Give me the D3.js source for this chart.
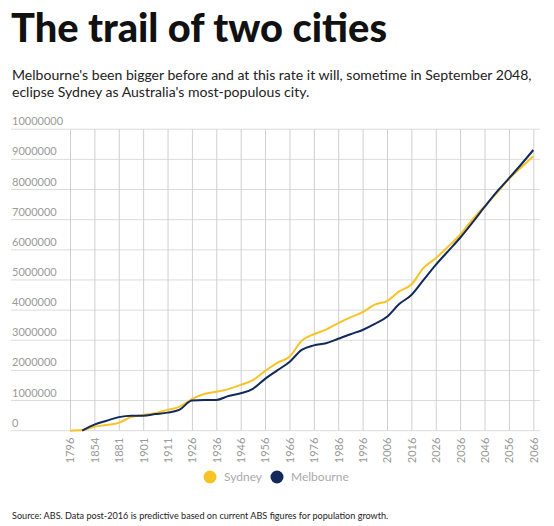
<!DOCTYPE html>
<html><head><meta charset="utf-8">
<script src="https://cdn.jsdelivr.net/npm/d3@7"></script>
<style>
body{margin:0;background:#fff;}
svg{display:block;}
</style></head>
<body>
<svg id="c" width="554" height="526"></svg>
<script>
const periods = ["1796","1825","1854","1868","1881","1891","1901","1906","1911","1918","1926","1931","1936","1941","1946","1951","1956","1961","1966","1971","1976","1981","1986","1991","1996","2001","2006","2011","2016","2021","2026","2031","2036","2041","2046","2051","2056","2061","2066"];
const tickLabels = ["1796","1854","1881","1901","1911","1926","1936","1946","1956","1966","1976","1986","1996","2006","2016","2026","2036","2046","2056","2066"];
const sydney = [0,20000,130000,190000,260000,450000,520000,580000,690000,800000,1050000,1220000,1290000,1380000,1520000,1680000,1980000,2250000,2450000,2980000,3200000,3350000,3570000,3760000,3930000,4180000,4300000,4620000,4850000,5400000,5720000,6100000,6500000,7000000,7440000,7880000,8350000,8730000,9100000];
const melbourne = [null,0,200000,330000,450000,500000,500000,550000,600000,700000,1000000,1020000,1020000,1150000,1240000,1390000,1720000,2000000,2280000,2680000,2830000,2900000,3050000,3200000,3340000,3540000,3780000,4200000,4500000,5000000,5500000,5950000,6400000,6900000,7420000,7920000,8370000,8830000,9310000];
const yTicks = [0,1000000,2000000,3000000,4000000,5000000,6000000,7000000,8000000,9000000,10000000];
const seriesNames = ["Sydney","Melbourne"];
const colors = ["#f7c325","#13295a"];
const subtitleLines = ["Melbourne's been bigger before and at this rate it will, sometime in September 2048,","eclipse Sydney as Australia's most-populous city."];

const svg = d3.select("#c");
const x = d3.scalePoint().domain(periods).range([70, 533.3]);
const y = d3.scaleLinear().domain([0, 10000000]).range([430.7, 129.2]);

function fit(sel, w){
  const n = sel.node(); const fs = parseFloat(sel.attr("font-size"));
  const cw = n.getComputedTextLength();
  sel.attr("font-size", (fs*w/cw).toFixed(2));
}

// title
const t = svg.append("text").attr("x",11).attr("y",42).attr("font-family","Lato, 'Noto Sans', sans-serif")
  .attr("font-weight",900).attr("font-size",38).attr("fill","#111").text("The trail of two cities");
fit(t, 376);

// subtitle
const s1 = svg.append("text").attr("x",12).attr("y",80).attr("font-family","Lato, 'Noto Sans', sans-serif")
  .attr("font-size",14).attr("fill","#222").text(subtitleLines[0]);
fit(s1, 520);
svg.append("text").attr("x",12).attr("y",97).attr("font-family","Lato, 'Noto Sans', sans-serif")
  .attr("font-size",s1.attr("font-size")).attr("fill","#222").text(subtitleLines[1]);

// horizontal grid
const g = svg.append("g");
g.selectAll("line.h").data(yTicks).join("line").attr("class","h")
  .attr("x1",11).attr("x2",540).attr("y1",d=>y(d)).attr("y2",d=>y(d))
  .attr("stroke","#dcdcdc").attr("stroke-width",1);
g.selectAll("text.yl").data(yTicks).join("text").attr("class","yl")
  .attr("x",12).attr("y",d=>y(d)-4).attr("font-family","Lato, sans-serif").attr("font-size",11)
  .attr("fill","#9a9a9a").text(d=>d3.format("d")(d));

// vertical grid + x axis
const xAxis = d3.axisBottom(x).tickValues(tickLabels).tickSize(0).tickPadding(0);
const xa = svg.append("g").attr("transform","translate(0,430.7)").call(xAxis);
xa.select(".domain").remove();
xa.selectAll(".tick line").attr("y1",-301.5).attr("y2",0).attr("stroke","#cfcfcf");
xa.selectAll(".tick text").attr("transform","rotate(-90)").attr("text-anchor","end")
  .attr("x",-7).attr("y",0).attr("dy","0.35em").attr("font-family","Lato, sans-serif").attr("font-size",11).attr("fill","#9a9a9a");

// lines
const data = [sydney, melbourne];
const line = d3.line().defined(d=>d[1]!=null).x(d=>x(d[0])).y(d=>y(d[1])).curve(d3.curveMonotoneX);
data.forEach((vals,i)=>{
  svg.append("path").datum(periods.map((p,j)=>[p,vals[j]]))
    .attr("fill","none").attr("stroke",colors[i]).attr("stroke-width",2).attr("d",line);
});

// legend
const lx = [210, 277];
seriesNames.forEach((n,i)=>{
  svg.append("circle").attr("cx",lx[i]).attr("cy",477).attr("r",6.5).attr("fill",colors[i]);
  svg.append("text").attr("x",lx[i]+14).attr("y",481).attr("font-family","Lato, sans-serif")
    .attr("font-size",12).attr("fill","#aaa").text(n);
});

// source
const src = svg.append("text").attr("x",12).attr("y",519).attr("font-family","Lato, sans-serif")
  .attr("font-size",10).attr("fill","#222").text("Source: ABS. Data post-2016 is predictive based on current ABS figures for population growth.");
fit(src, 377);
</script>
</body></html>
